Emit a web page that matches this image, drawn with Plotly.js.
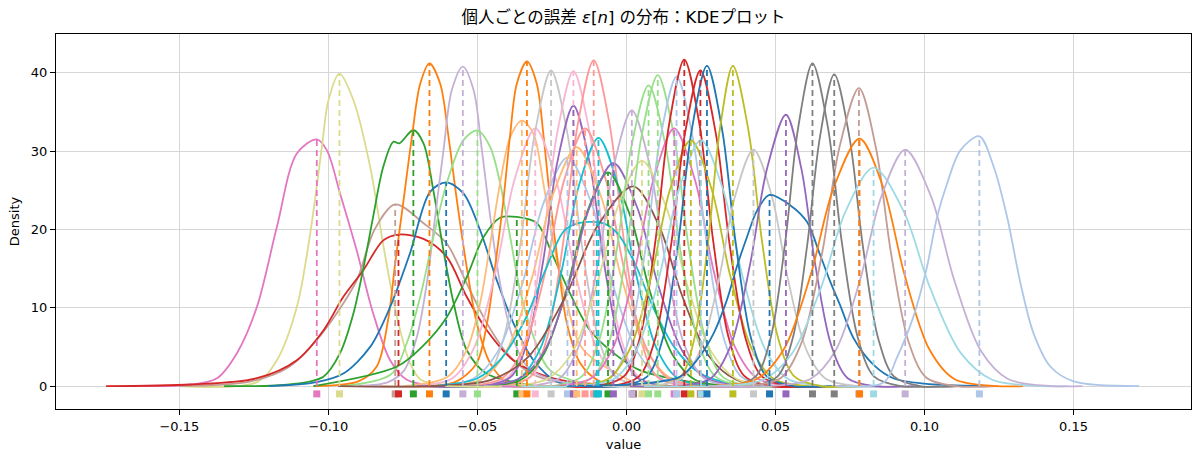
<!DOCTYPE html>
<html>
<head>
<meta charset="utf-8">
<script src="https://cdn.plot.ly/plotly-3.0.1.min.js"></script>
<style>html,body{margin:0;padding:0;background:#fff;}#chart{width:1200px;height:461px;}</style>
</head>
<body>
<div id="chart"></div>
<script>
// ---- data ----
const curveColors = [
  '#e377c2','#dbdb8d','#c49c94','#d62728','#2ca02c','#ff7f0e','#1f77b4','#c5b0d5','#98df8a','#2ca02c',
  '#ffbb78','#ff7f0e','#f7b6d2','#c7c7c7','#aec7e8','#f7b6d2','#9467bd','#ffbb78','#ff9896','#ff9896',
  '#17becf','#17becf','#2ca02c','#9467bd','#8c564b','#c5b0d5','#dbdb8d','#98df8a','#98df8a','#e377c2',
  '#aec7e8','#d62728','#bcbd22','#d62728','#9edae5','#1f77b4','#bcbd22','#c7c7c7','#1f77b4','#9467bd',
  '#7f7f7f','#7f7f7f','#c49c94','#ff7f0e','#9edae5','#c5b0d5','#aec7e8'
];
// mode position (dashed line / rug) and peak density of each curve
const modeX = [
  -0.1039,-0.0963,-0.0776,-0.0765,-0.0715,-0.0661,-0.0605,-0.0549,-0.0500,-0.0368,
  -0.0351,-0.0334,-0.0306,-0.0253,-0.0198,-0.0178,-0.0178,-0.0167,-0.0139,-0.0110,
  -0.0094,-0.0100,-0.0062,-0.0044,0.0023,0.0018,0.0052,0.0074,0.0105,0.0160,
  0.0168,0.0194,0.0216,0.0248,0.0250,0.0270,0.0357,0.0426,0.0480,0.0535,
  0.0624,0.0697,0.0780,0.0782,0.0829,0.0935,0.1184
];
const modeY = [
  31.5,39.9,23.2,19.35,32.7,41.2,26.0,40.8,32.65,21.6,
  33.9,41.45,32.9,40.3,29.2,40.2,35.8,30.5,32.9,41.6,
  31.7,20.8,27.3,28.5,25.5,35.2,28.8,38.4,39.7,32.9,
  39.5,41.7,31.4,40.3,31.4,40.9,40.9,30.2,24.4,34.65,
  41.2,39.8,38.05,31.6,27.9,30.2,31.9
];
// KDE curve samples (x values, density values)
const kdeX = [
  [-0.162,-0.146,-0.1374,-0.1307,-0.124,-0.1173,-0.1106,-0.1039,-0.1005,-0.0961,-0.0905,-0.085,-0.0793,-0.0737,-0.066,-0.055],
  [-0.150,-0.124,-0.1173,-0.1106,-0.1061,-0.1022,-0.100,-0.0963,-0.0916,-0.086,-0.0815,-0.077,-0.0726,-0.069,-0.06,-0.045],
  [-0.150,-0.126,-0.113,-0.1039,-0.0972,-0.0905,-0.0845,-0.0776,-0.0681,-0.0603,-0.0536,-0.0468,-0.0401,-0.032,-0.022,-0.005],
  [-0.1746,-0.146,-0.124,-0.1106,-0.1017,-0.095,-0.0883,-0.0816,-0.0765,-0.0681,-0.0603,-0.0536,-0.0468,-0.038,-0.0267,-0.0155,0.015],
  [-0.135,-0.113,-0.1017,-0.0961,-0.0916,-0.0882,-0.085,-0.0816,-0.0782,-0.0762,-0.0715,-0.0681,-0.0648,-0.0614,-0.058,-0.0536,-0.047,-0.03],
  [-0.105,-0.09,-0.0838,-0.080,-0.0776,-0.0748,-0.072,-0.0692,-0.0661,-0.0625,-0.0597,-0.0569,-0.0536,-0.0502,-0.0457,-0.040,-0.025],
  [-0.12,-0.1039,-0.095,-0.086,-0.0793,-0.0726,-0.0659,-0.0605,-0.0547,-0.0491,-0.0435,-0.0379,-0.0312,-0.0234,-0.005],
  [-0.09,-0.08,-0.0746,-0.0703,-0.067,-0.0642,-0.0614,-0.0586,-0.0549,-0.0513,-0.0485,-0.0457,-0.0424,-0.0379,-0.032,-0.015],
  [-0.095,-0.079,-0.0737,-0.0692,-0.0648,-0.0603,-0.0547,-0.050,-0.0457,-0.0424,-0.039,-0.0357,-0.0312,-0.0256,-0.01],
  [-0.105,-0.077,-0.0681,-0.0603,-0.0536,-0.048,-0.0424,-0.0368,-0.0301,-0.0245,-0.0189,-0.0122,-0.0043,0.0046,0.03],
  [-0.075,-0.06,-0.0536,-0.0491,-0.0457,-0.0424,-0.039,-0.0351,-0.0312,-0.0279,-0.0245,-0.02,-0.0144,0.005],
  [-0.065,-0.057,-0.0503,-0.0468,-0.0441,-0.0413,-0.039,-0.0368,-0.0334,-0.0301,-0.0279,-0.0256,-0.0228,-0.02,-0.0155,-0.009,0.0],
  [-0.0884,-0.0705,-0.0584,-0.0511,-0.0438,-0.0376,-0.0306,-0.0236,-0.0174,-0.0101,-0.0028,0.0093,0.0272],
  [-0.0704,-0.0565,-0.047,-0.0413,-0.0356,-0.0308,-0.0253,-0.0198,-0.015,-0.0093,-0.0036,0.0059,0.0198],
  [-0.0858,-0.0654,-0.0516,-0.0432,-0.0349,-0.0278,-0.0198,-0.0118,-0.0047,0.0036,0.012,0.0258,0.0462],
  [-0.0629,-0.049,-0.0395,-0.0338,-0.0281,-0.0233,-0.0178,-0.0123,-0.0075,-0.0018,0.0039,0.0134,0.0273],
  [-0.0618,-0.0482,-0.039,-0.0334,-0.0279,-0.0232,-0.0178,-0.0124,-0.0077,-0.0022,0.0034,0.0126,0.0262],
  [-0.0827,-0.0623,-0.0485,-0.0401,-0.0318,-0.0247,-0.0167,-0.0087,-0.0016,0.0067,0.0151,0.0289,0.0493],
  [-0.0717,-0.0538,-0.0417,-0.0344,-0.0271,-0.0209,-0.0139,-0.0069,-0.0007,0.0066,0.0139,0.026,0.0439],
  [-0.055,-0.0414,-0.0322,-0.0266,-0.0211,-0.0164,-0.011,-0.0056,-0.0009,0.0046,0.0102,0.0194,0.033],
  [-0.0644,-0.0474,-0.0359,-0.0289,-0.022,-0.0161,-0.0094,-0.0027,0.0032,0.0101,0.0171,0.0286,0.0456],
  [-0.065,-0.05,-0.042,-0.034,-0.027,-0.021,-0.016,-0.008,-0.003,0.003,0.009,0.016,0.024,0.035,0.05],
  [-0.0667,-0.048,-0.0354,-0.0277,-0.0201,-0.0136,-0.0062,0.0012,0.0077,0.0153,0.023,0.0356,0.0543],
  [-0.0704,-0.05,-0.0362,-0.0278,-0.0195,-0.0124,-0.0044,0.0036,0.0107,0.019,0.0274,0.0412,0.0616],
  [-0.0967,-0.0661,-0.0454,-0.0328,-0.0204,-0.0098,0.0023,0.011,0.0187,0.0277,0.0368,0.0517,0.0738],
  [-0.0477,-0.0324,-0.0221,-0.0158,-0.0095,-0.0042,0.0018,0.0078,0.0131,0.0194,0.0257,0.036,0.0513],
  [-0.0608,-0.0404,-0.0266,-0.0182,-0.0099,-0.0028,0.0052,0.0132,0.0203,0.0286,0.037,0.0508,0.0712],
  [-0.0394,-0.0249,-0.0151,-0.0092,-0.0033,0.0017,0.0074,0.0131,0.0181,0.024,0.0299,0.0397,0.0542],
  [-0.0346,-0.0207,-0.0112,-0.0055,0.0002,0.005,0.0105,0.016,0.0208,0.0265,0.0322,0.0417,0.0556],
  [-0.0418,-0.0239,-0.0118,-0.0045,0.0028,0.009,0.016,0.023,0.0292,0.0365,0.0438,0.0559,0.0738],
  [-0.0283,-0.0144,-0.0049,0.0008,0.0065,0.0113,0.0168,0.0223,0.0271,0.0328,0.0385,0.048,0.0619],
  [-0.0224,-0.0095,-0.0007,0.0046,0.0098,0.0143,0.0194,0.0245,0.029,0.0342,0.0395,0.0483,0.0612],
  [-0.0362,-0.0183,-0.0062,0.0011,0.0084,0.0146,0.0216,0.0286,0.0348,0.0421,0.0494,0.0615,0.0794],
  [-0.0181,-0.0048,0.0041,0.0096,0.015,0.0196,0.0248,0.03,0.0346,0.04,0.0455,0.0544,0.0677],
  [-0.0355,-0.0168,-0.0042,0.0035,0.0111,0.0176,0.025,0.0324,0.0389,0.0465,0.0542,0.0668,0.0855],
  [-0.0148,-0.0019,0.0069,0.0122,0.0174,0.0219,0.027,0.0321,0.0366,0.0418,0.0471,0.0559,0.0688],
  [-0.0006,0.0106,0.0182,0.0228,0.0274,0.0313,0.0357,0.0409,0.0455,0.0509,0.0564,0.0653,0.0786],
  [-0.008,0.0076,0.0182,0.0247,0.031,0.0364,0.0426,0.0488,0.0542,0.0605,0.067,0.0776,0.0932],
  [-0.02,0.005,0.018,0.0236,0.0292,0.0337,0.037,0.0404,0.0438,0.048,0.0549,0.0605,0.065,0.0684,0.0717,0.0762,0.0829,0.0895,0.1,0.12],
  [0.0012,0.0174,0.0283,0.035,0.0415,0.0471,0.0535,0.0587,0.0633,0.0687,0.0742,0.0831,0.0964],
  [0.0228,0.035,0.0433,0.0484,0.0533,0.0576,0.0624,0.0676,0.0722,0.0776,0.0831,0.092,0.1053],
  [0.0301,0.0423,0.0506,0.0557,0.0606,0.0649,0.0697,0.0748,0.0793,0.0845,0.0898,0.0986,0.1115],
  [0.0241,0.0408,0.052,0.0589,0.0657,0.0714,0.078,0.0837,0.0887,0.0946,0.1005,0.1103,0.1248],
  [0.0067,0.0288,0.0437,0.0528,0.0618,0.0695,0.0782,0.0862,0.0933,0.1016,0.11,0.1238,0.133],
  [0.0059,0.0297,0.0458,0.0556,0.0653,0.0735,0.0829,0.093,0.1018,0.1122,0.1227,0.1399,0.148],
  [0.0275,0.0479,0.0617,0.0701,0.0784,0.0855,0.0935,0.1022,0.1099,0.1189,0.128,0.1429,0.153],
  [0.07,0.0864,0.0907,0.0963,0.1008,0.1042,0.1076,0.112,0.1184,0.1232,0.1277,0.1322,0.1366,0.1422,0.15,0.172]
];
const kdeY = [
  [0,0.2,1.0,4.2,10.1,20.3,29.7,31.5,30.1,24.6,17.3,9.3,3.3,0.8,0.1,0],
  [0,0.5,3.3,10.1,19.5,30.5,36.5,39.9,36.5,28,17.8,8.8,2.9,0.8,0.1,0],
  [0,0.6,2.5,5.9,9.3,13.5,20.0,23.2,20.8,18.2,13.1,8.0,4.2,1.6,0.4,0],
  [0,0.2,1.0,3.3,7.1,11.4,14.8,18.6,19.35,18.8,16.5,11.4,7.1,3.3,1.2,0.4,0],
  [0,0.2,1.2,4.2,9.3,15.2,21.6,28,31.2,31.0,32.7,31,25,17.3,10.6,4.6,1.6,0],
  [0,0.6,2.5,8.4,15.7,23.7,31.8,38.6,41.2,38.6,31.8,23.7,15.2,8,2.9,0.5,0],
  [0,0.5,1.6,5.0,10.1,17.0,24.8,26.0,24.6,19.9,13.5,8.0,3.3,0.6,0],
  [0,0.5,2,6.3,13.1,21.6,30.1,37.8,40.8,37.8,30.1,21.6,13.1,5.9,2,0],
  [0,1.5,5.5,11.4,19,25.9,31.4,32.65,30.5,25.9,19,12.2,6.3,2,0],
  [0,2.5,5.2,8.8,13.9,19.0,21.5,21.6,20.8,16.5,11.8,7.1,4.2,2.0,0],
  [0,1.2,4.6,10.6,18.2,25.9,31.8,33.9,32.2,25.9,18.2,10.6,4.6,0],
  [0,0.6,2.9,8,15.2,23.7,32.2,38.6,41.45,38.6,32.2,23.7,15.2,8,2.9,0.6,0],
  [0,0,1.0,4.9,14.8,26.3,32.9,26.3,14.8,4.9,1.0,0,0],
  [0,0,1.2,6.0,18.1,32.2,40.3,32.2,18.1,6.0,1.2,0,0],
  [0,0,0.9,4.4,13.1,23.4,29.2,23.4,13.1,4.4,0.9,0,0],
  [0,0,1.2,6.0,18.1,32.2,40.2,32.2,18.1,6.0,1.2,0,0],
  [0,0,1.1,5.4,16.1,28.6,35.8,28.6,16.1,5.4,1.1,0,0],
  [0,0,0.9,4.6,13.7,24.4,30.5,24.4,13.7,4.6,0.9,0,0],
  [0,0,1.0,4.9,14.8,26.3,32.9,26.3,14.8,4.9,1.0,0,0],
  [0,0,1.2,6.2,18.7,33.3,41.6,33.3,18.7,6.2,1.2,0,0],
  [0,0,1.0,4.8,14.3,25.4,31.7,25.4,14.3,4.8,1.0,0,0],
  [0,1.0,3.5,8.5,15,19.8,20.8,20.8,19.5,15.5,10,5,1.8,0.3,0],
  [0,0,0.8,4.1,12.3,21.8,27.3,21.8,12.3,4.1,0.8,0,0],
  [0,0,0.9,4.3,12.8,22.8,28.5,22.8,12.8,4.3,0.9,0,0],
  [0,0,0.8,3.8,11.5,20.4,25.5,20.4,11.5,3.8,0.8,0,0],
  [0,0,1.1,5.3,15.8,28.2,35.2,28.2,15.8,5.3,1.1,0,0],
  [0,0,0.9,4.3,13.0,23.0,28.8,23.0,13.0,4.3,0.9,0,0],
  [0,0,1.2,5.8,17.3,30.7,38.4,30.7,17.3,5.8,1.2,0,0],
  [0,0,1.2,6.0,17.9,31.8,39.7,31.8,17.9,6.0,1.2,0,0],
  [0,0,1.0,4.9,14.8,26.3,32.9,26.3,14.8,4.9,1.0,0,0],
  [0,0,1.2,5.9,17.8,31.6,39.5,31.6,17.8,5.9,1.2,0,0],
  [0,0,1.3,6.3,18.8,33.4,41.7,33.4,18.8,6.3,1.3,0,0],
  [0,0,0.9,4.7,14.1,25.1,31.4,25.1,14.1,4.7,0.9,0,0],
  [0,0,1.2,6.0,18.1,32.2,40.3,32.2,18.1,6.0,1.2,0,0],
  [0,0,0.9,4.7,14.1,25.1,31.4,25.1,14.1,4.7,0.9,0,0],
  [0,0,1.2,6.1,18.4,32.7,40.9,32.7,18.4,6.1,1.2,0,0],
  [0,0,1.2,6.1,18.4,32.7,40.9,32.7,18.4,6.1,1.2,0,0],
  [0,0,0.9,4.5,13.6,24.2,30.2,24.2,13.6,4.5,0.9,0,0],
  [0,0.3,1.2,3.3,6.7,11,15.2,19,22.4,24.4,23.1,21,16.7,13.3,10.3,6.1,2.7,1.0,0.3,0],
  [0,0,1.0,5.2,15.6,27.7,34.65,27.7,15.6,5.2,1.0,0,0],
  [0,0,1.2,6.2,18.5,33.0,41.2,33.0,18.5,6.2,1.2,0,0],
  [0,0,1.2,6.0,17.9,31.8,39.8,31.8,17.9,6.0,1.2,0,0],
  [0,0,1.1,5.7,17.1,30.4,38.05,30.4,17.1,5.7,1.1,0,0],
  [0,0,0.9,4.7,14.2,25.3,31.6,25.3,14.2,4.7,0.9,0,0],
  [0,0,0.8,4.2,12.6,22.3,27.9,22.3,12.6,4.2,0.8,0,0],
  [0,0,0.9,4.5,13.6,24.2,30.2,24.2,13.6,4.5,0.9,0,0],
  [0,0.5,3.6,8.9,15.2,21.6,25.9,30.1,31.9,28,21.6,13.1,6.7,2.5,0.6,0]
];
const xTickVals = [-0.15,-0.10,-0.05,0.00,0.05,0.10,0.15];
const yTickVals = [0,10,20,30,40];

// ---- drawing ----
const RUG_Y = -1.0;
const traces = [];
kdeX.forEach((xs, i) => {
  traces.push({
    type: 'scatter', mode: 'lines', x: xs, y: kdeY[i],
    line: {color: curveColors[i], width: 1.8, shape: 'spline', smoothing: 0.9},
    hoverinfo: 'skip', showlegend: false
  });
});
modeX.forEach((m, i) => {
  traces.push({
    type: 'scatter', mode: 'lines', x: [m, m], y: [0, modeY[i]],
    line: {color: curveColors[i], width: 1.8, dash: '6px,4px'},
    hoverinfo: 'skip', showlegend: false
  });
});
traces.push({
  type: 'scatter', mode: 'markers', x: modeX, y: modeX.map(() => RUG_Y),
  marker: {symbol: 'square', size: 7, color: curveColors, line: {width: 0}},
  hoverinfo: 'skip', showlegend: false
});

const FONT = '"DejaVu Sans", "Noto Sans CJK JP", sans-serif';
const layout = {
  width: 1200, height: 461,
  margin: {l: 56, r: 9, t: 34, b: 52},
  paper_bgcolor: '#fff', plot_bgcolor: '#fff',
  font: {family: FONT, size: 13, color: '#000'},
  title: {text: '個人ごとの誤差 <i>ε</i>[<i>n</i>] の分布：KDEプロット',
          x: 0.5, xref: 'paper', y: 0.962, yref: 'container', yanchor: 'middle',
          font: {family: FONT, size: 16.5, color: '#000'}},
  xaxis: {
    range: [-0.1914, 0.1894], tickvals: xTickVals, tickformat: '.2f',
    ticks: 'outside', ticklen: 5, tickwidth: 1, tickcolor: '#000',
    showgrid: true, gridcolor: '#d6d6d6', gridwidth: 1, zeroline: false,
    showline: true, mirror: true, linecolor: '#000', linewidth: 1,
    title: {text: 'value', standoff: 7, font: {family: FONT, size: 13}},
    tickfont: {family: FONT, size: 13}
  },
  yaxis: {
    range: [-2.93, 44.96], tickvals: yTickVals,
    ticks: 'outside', ticklen: 5, tickwidth: 1, tickcolor: '#000',
    showgrid: true, gridcolor: '#d6d6d6', gridwidth: 1, zeroline: false,
    showline: true, mirror: true, linecolor: '#000', linewidth: 1,
    title: {text: 'Density', standoff: 8, font: {family: FONT, size: 13}},
    tickfont: {family: FONT, size: 13}
  }
};
Plotly.newPlot('chart', traces, layout, {staticPlot: true, displayModeBar: false});
</script>
</body>
</html>
